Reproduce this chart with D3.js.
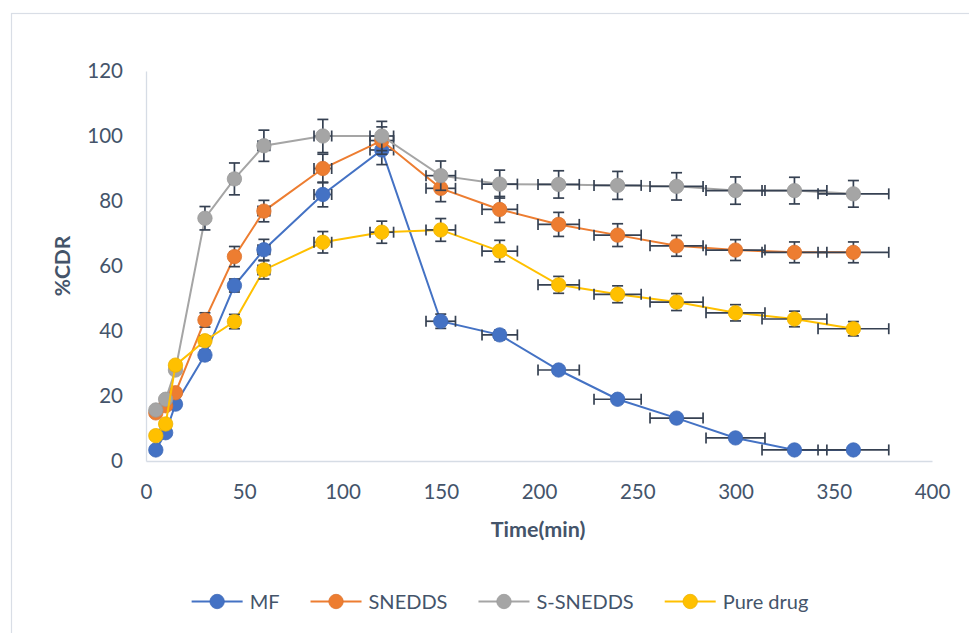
<!DOCTYPE html>
<html>
<head>
<meta charset="utf-8">
<script src="https://cdn.jsdelivr.net/npm/d3@7/dist/d3.min.js"></script>
<style>
html,body{margin:0;padding:0;background:#fff;}
svg{display:block;}
text{font-family:Lato,"Open Sans",sans-serif;fill:#44546a;}
</style>
</head>
<body>
<svg id="chart" width="969" height="633"></svg>
<script>
// ---- data ----
const times = [5,10,15,30,45,60,90,120,150,180,210,240,270,300,330,360];
const seriesNames = ["MF","SNEDDS","S-SNEDDS","Pure drug"];
const mfValues      = [3.4,8.7,17.5,32.6,54,65,82,95.7,43,38.8,28,19,13.2,7.1,3.4,3.4];
const sneddsValues  = [14.8,17,21,43.4,62.9,76.9,90,98.6,83.9,77.4,72.8,69.5,66.2,64.9,64.2,64.2];
const ssneddsValues = [15.7,19,28,74.7,86.8,97,100,100,87.8,85.2,85.1,84.8,84.5,83.2,83.2,82.2];
const pureValues    = [7.8,11.4,29.5,37,42.9,58.8,67.3,70.4,71.1,64.6,54.2,51.3,48.9,45.6,43.7,40.7];
const mfErr      = [1,1,1.2,1.5,2,3.2,3.8,4.5,2.2,1.5,1.2,1,1,0.8,0.5,0.5];
const sneddsErr  = [1,1,1.2,2.2,3.1,3.3,4.4,4.2,4.1,4,3.7,3.5,3.2,3.2,3.2,3.2];
const ssneddsErr = [1,1,1.2,3.6,4.9,4.8,5.1,4.5,4.5,4.3,4.2,4.3,4.2,4.2,4.1,4.1];
const pureErr    = [1,1,1,1.5,2.2,2.8,3.3,3.4,3.5,3.3,2.6,2.6,2.6,2.5,2.4,2.2];
const timeErr    = [0.25,0.5,0.75,1.5,2.25,3,4.5,6,7.5,9,10.5,12,13.5,15,16.5,18];
const xTicks = [0,50,100,150,200,250,300,350,400];
const yTicks = [0,20,40,60,80,100,120];
const xTitle = "Time(min)";
const yTitle = "%CDR";

const colors = ["#4472c4","#ed7d31","#a5a5a5","#ffc000"];
const allValues = [mfValues, sneddsValues, ssneddsValues, pureValues];
const allErr = [mfErr, sneddsErr, ssneddsErr, pureErr];

const svg = d3.select("#chart");
const txtColor = "#44546a";
const errColor = "#364152";

// chart area border
svg.append("rect").attr("x",11.5).attr("y",13.5).attr("width",990).attr("height",650)
  .attr("fill","none").attr("stroke","#d9dee6").attr("stroke-width",1.2);

const x = d3.scaleLinear().domain([0,400]).range([146,932]);
const y = d3.scaleLinear().domain([0,120]).range([461,71]);

// axes
const xAxis = svg.append("g").attr("transform",`translate(0,${y(0)})`)
  .call(d3.axisBottom(x).tickValues(xTicks).tickSize(0).tickPadding(23));
xAxis.select(".domain").attr("stroke","#d6dce5").attr("stroke-width",1.3);
xAxis.selectAll("text").style("font-size","20.5px").attr("fill",txtColor);

const yAxis = svg.append("g").attr("transform",`translate(${x(0)},0)`)
  .call(d3.axisLeft(y).tickValues(yTicks).tickSize(0).tickPadding(23));
yAxis.select(".domain").attr("stroke","#d6dce5").attr("stroke-width",1.3);
yAxis.selectAll("text").style("font-size","20.5px").attr("fill",txtColor);

// titles
svg.append("text").attr("x",538).attr("y",537).attr("text-anchor","middle")
  .style("font-size","21.5px").style("font-weight","bold").text(xTitle);
svg.append("text").attr("transform",`translate(70,${(y(0)+y(120))/2}) rotate(-90)`)
  .attr("text-anchor","middle").style("font-size","21px").style("font-weight","bold").text(yTitle);

const line = d3.line().x(d=>x(d.t)).y(d=>y(d.v));
const cap = 5.5;

allValues.forEach((vals, si) => {
  const pts = times.map((t,i)=>({t, v: vals[i], ey: allErr[si][i], ex: timeErr[i]}));
  const g = svg.append("g");
  g.append("path").datum(pts).attr("d",line).attr("fill","none")
    .attr("stroke",colors[si]).attr("stroke-width",2);
  const eb = g.append("g").attr("stroke",errColor).attr("stroke-width",1.7).attr("fill","none");
  pts.forEach(p => {
    const cx = x(p.t), cy = y(p.v);
    const y1 = y(p.v + p.ey), y2 = y(p.v - p.ey);
    eb.append("line").attr("x1",cx).attr("x2",cx).attr("y1",y1).attr("y2",y2);
    eb.append("line").attr("x1",cx-cap).attr("x2",cx+cap).attr("y1",y1).attr("y2",y1);
    eb.append("line").attr("x1",cx-cap).attr("x2",cx+cap).attr("y1",y2).attr("y2",y2);
    const x1 = x(p.t - p.ex), x2 = x(p.t + p.ex);
    eb.append("line").attr("x1",x1).attr("x2",x2).attr("y1",cy).attr("y2",cy);
    eb.append("line").attr("x1",x1).attr("x2",x1).attr("y1",cy-cap).attr("y2",cy+cap);
    eb.append("line").attr("x1",x2).attr("x2",x2).attr("y1",cy-cap).attr("y2",cy+cap);
  });
  g.selectAll("circle").data(pts).join("circle")
    .attr("cx",d=>x(d.t)).attr("cy",d=>y(d.v)).attr("r",7.2)
    .attr("fill",colors[si]).attr("stroke",d3.color(colors[si]).darker(0.2)).attr("stroke-width",0.8);
});

// legend
const legY = 601.5;
const leg = svg.append("g");
const items = [];
let cursor = 0;
seriesNames.forEach((name, si) => {
  const it = leg.append("g");
  it.append("line").attr("x1",0).attr("x2",51).attr("y1",legY).attr("y2",legY)
    .attr("stroke",colors[si]).attr("stroke-width",2);
  it.append("circle").attr("cx",25.5).attr("cy",legY).attr("r",7.2).attr("fill",colors[si])
    .attr("stroke",d3.color(colors[si]).darker(0.2)).attr("stroke-width",0.8);
  const t = it.append("text").attr("x",58).attr("y",legY).attr("dy","0.35em")
    .style("font-size","20px").text(name);
  const w = 58 + t.node().getComputedTextLength();
  it.attr("transform",`translate(${cursor},0)`);
  cursor += w + 31;
});
const total = cursor - 31;
leg.attr("transform",`translate(${500 - total/2},0)`);
</script>
</body>
</html>
